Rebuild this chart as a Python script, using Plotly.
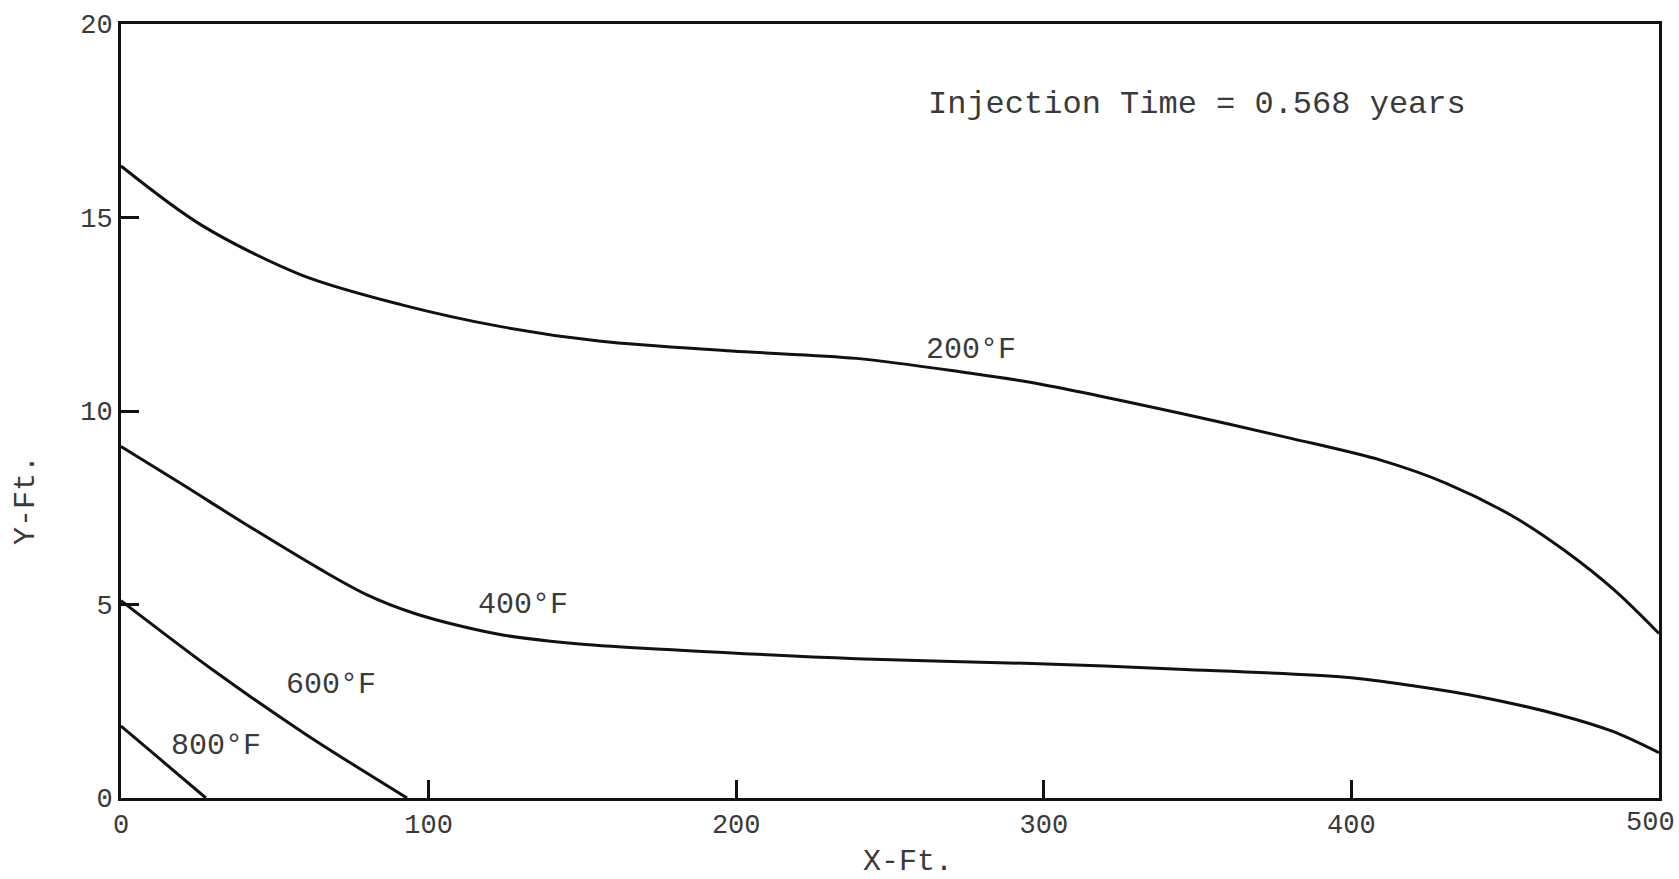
import plotly.graph_objects as go

# Isotherm positions (Y-Ft. vs X-Ft.) after 0.568 years of injection
x_200 = [0, 26, 58.5, 91, 123.5, 156, 198.6, 239, 274, 298.6, 344, 380, 409.5, 431.2, 452.9, 469.2, 485.5, 500]
y_200 = [16.33, 14.81, 13.52, 12.75, 12.18, 11.8, 11.55, 11.36, 11.0, 10.7, 9.95, 9.3, 8.73, 8.12, 7.26, 6.4, 5.37, 4.25]

x_400 = [0, 20, 40, 65, 80, 95, 110, 125, 149, 181.7, 239, 298.6, 344, 398, 420, 442, 468, 485, 500]
y_400 = [9.08, 8.1, 7.1, 5.9, 5.25, 4.78, 4.45, 4.2, 3.98, 3.82, 3.6, 3.47, 3.33, 3.12, 2.9, 2.61, 2.14, 1.72, 1.17]

x_600 = [0, 30, 60, 93]
y_600 = [5.1, 3.3, 1.65, 0]

x_800 = [0, 13.2, 27.6]
y_800 = [1.86, 0.97, 0]

curve_labels = ["200°F", "400°F", "600°F", "800°F"]
label_x = [276.3, 130.7, 68.3, 30.9]
label_y = [11.58, 4.99, 2.92, 1.34]

x_ticks = [0, 100, 200, 300, 400, 500]
y_ticks = [0, 5, 10, 15, 20]

FONT = "Liberation Mono, Courier New, monospace"
TEXT = "#3a3a3a"

# plot-area geometry in pixels
L, R, T, B = 121, 20, 24, 81
W, H = 1679, 879
PW, PH = W - L - R, H - T - B

fig = go.Figure()
for xs, ys in [(x_200, y_200), (x_400, y_400), (x_600, y_600), (x_800, y_800)]:
    fig.add_trace(go.Scatter(
        x=xs, y=ys, mode="lines",
        line=dict(color="#111111", width=3, shape="spline", smoothing=0.9),
        showlegend=False, hoverinfo="skip",
    ))

for txt, lx, ly in zip(curve_labels, label_x, label_y):
    fig.add_annotation(x=lx, y=ly, text=txt, showarrow=False,
                       font=dict(family=FONT, size=30, color=TEXT))

fig.add_annotation(x=261.7, y=17.93, text="Injection Time = 0.568 years",
                   xanchor="left", showarrow=False,
                   font=dict(family=FONT, size=32, color=TEXT))

# last x tick label sits right at the paper edge, so it is drawn as text
fig.add_annotation(x=x_ticks[-1], y=0, text=str(x_ticks[-1]), showarrow=False,
                   xanchor="center", yanchor="middle", xshift=-9, yshift=-25,
                   font=dict(family=FONT, size=27, color=TEXT))

fig.add_annotation(x=(908 - L) / PW, y=-(862 - (H - B)) / PH,
                   xref="paper", yref="paper", text="X-Ft.",
                   xanchor="center", yanchor="middle", showarrow=False,
                   font=dict(family=FONT, size=30, color=TEXT))
fig.add_annotation(x=-(L - 26) / PW, y=((H - B) - 500) / PH,
                   xref="paper", yref="paper", text="Y-Ft.", textangle=-90,
                   xanchor="center", yanchor="middle", showarrow=False,
                   font=dict(family=FONT, size=30, color=TEXT))

axis_common = dict(
    showgrid=False, zeroline=False, showline=True, linecolor="#111111",
    linewidth=3, mirror=True, ticks="inside", tickcolor="#111111",
    tickwidth=3, ticklen=18, tickmode="array",
    tickfont=dict(family=FONT, size=27, color=TEXT),
)

fig.update_layout(
    width=W, height=H,
    margin=dict(l=L, r=R, t=T, b=B),
    paper_bgcolor="white", plot_bgcolor="white",
    xaxis=dict(range=[0, 500], tickvals=x_ticks,
               ticktext=[str(v) for v in x_ticks[:-1]] + [""], **axis_common),
    yaxis=dict(range=[0, 20], tickvals=y_ticks,
               ticktext=[str(v) for v in y_ticks], **axis_common),
)

fig.write_html("out.html")
